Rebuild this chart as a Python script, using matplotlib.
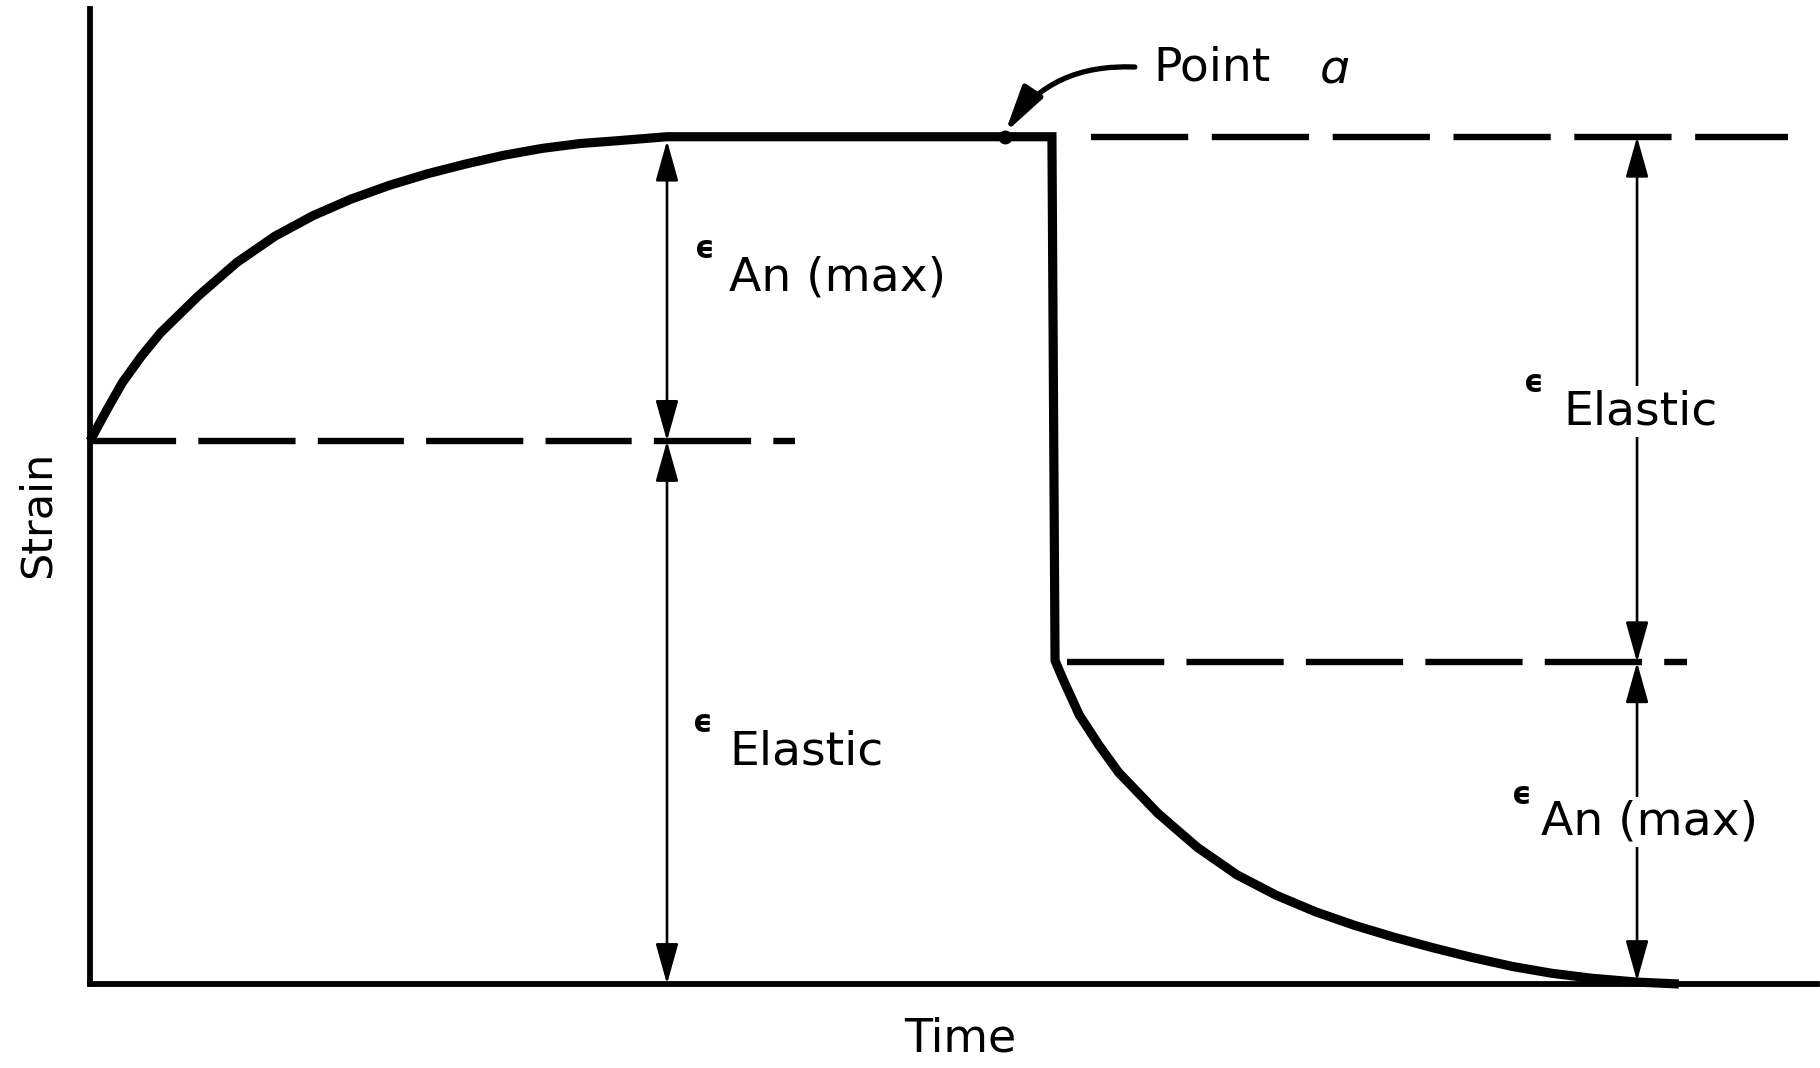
import matplotlib.pyplot as plt

plt.rcParams['font.family'] = ['DejaVu Sans']
plt.rcParams['lines.scale_dashes'] = False

# strain while the load is on: anelastic rise after the elastic jump
load_time = [0.0, 0.98, 1.88, 2.98, 4.09, 6.29, 8.50, 10.71, 12.91, 15.11,
             17.31, 19.54, 21.75, 23.96, 26.17, 28.37, 30.61, 33.41, 55.70]
load_strain = [55.7, 58.9, 61.7, 64.4, 66.8, 70.6, 74.0, 76.7, 78.8, 80.5,
               81.9, 83.1, 84.1, 85.0, 85.7, 86.2, 86.5, 86.9, 86.9]

# after unloading: elastic drop, then anelastic recovery back to zero
unload_time = [55.88, 55.99, 56.38, 57.28, 58.42, 59.56, 61.84, 64.13, 66.41,
               68.69, 70.97, 73.25, 75.50, 77.80, 80.08, 82.36, 84.64, 86.91,
               89.55, 92.0]
unload_strain = [33.2, 32.7, 31.1, 27.6, 24.5, 21.7, 17.5, 14.0, 11.2, 9.1,
                 7.4, 6.0, 4.8, 3.7, 2.7, 1.8, 1.1, 0.6, 0.2, 0.0]

elastic_level = 55.7      # strain right after loading
peak_strain = 86.9        # strain at point a
recovered_level = 33.0    # strain right after unloading
point_a_time = 52.98

left_arrow_t = 33.41
right_arrow_t = 89.58

fig = plt.figure(figsize=(18.2, 10.68), dpi=100)
ax = fig.add_axes([90 / 1820, 84 / 1068, 1727 / 1820, 975 / 1068])
ax.set_xlim(0, 100)
ax.set_ylim(0, 100)
ax.set_xticks([])
ax.set_yticks([])
for side in ('top', 'right'):
    ax.spines[side].set_visible(False)
for side in ('left', 'bottom'):
    ax.spines[side].set_linewidth(4.2)
    ax.spines[side].set_capstyle('projecting')

# the curve itself
ax.plot(load_time + unload_time, load_strain + unload_strain, color='black',
        lw=6.6, solid_joinstyle='miter', solid_capstyle='butt', clip_on=False,
        zorder=3)

# reference levels
dash = dict(color='black', lw=4.6, clip_on=False, zorder=2)
ax.plot([0, 40.82], [elastic_level, elastic_level], dashes=(62, 16, 70, 16), **dash)
ax.plot([57.96, 98.3], [peak_strain, peak_strain], dashes=(70, 17), **dash)
ax.plot([56.57, 92.47], [recovered_level, recovered_level], dashes=(70, 16), **dash)


def span(t, lo, hi):
    ax.annotate('', xy=(t, hi), xytext=(t, lo),
                arrowprops=dict(arrowstyle='<|-|>,head_length=25,head_width=7',
                                mutation_scale=1, lw=1.9, color='black',
                                shrinkA=0, shrinkB=0),
                zorder=2)


span(left_arrow_t, elastic_level, peak_strain - 0.4)
span(left_arrow_t, 0, elastic_level)
span(right_arrow_t, recovered_level, peak_strain)
span(right_arrow_t, 0.3, recovered_level)

fs = 34
eps = dict(fontsize=22, fontweight='bold', ha='center', va='center')
lab = dict(fontsize=fs, ha='left', va='center', zorder=5)
box = dict(facecolor='white', edgecolor='none', pad=2)

ax.text(35.6, 75.3, 'ϵ', **eps)
ax.text(37.0, 72.4, 'An (max)', **lab)
ax.text(35.5, 26.7, 'ϵ', **eps)
ax.text(37.0, 23.8, 'Elastic', **lab)

ax.text(83.6, 61.6, 'ϵ', **eps)
ax.text(85.3, 58.7, 'Elastic', bbox=box, **lab)
ax.text(82.9, 19.3, 'ϵ', **eps)
ax.text(84.0, 16.6, 'An (max)', bbox=box, **lab)

# point a
ax.annotate('', xy=(point_a_time, peak_strain + 0.4), xytext=(60.5, 94.05),
            arrowprops=dict(arrowstyle='-|>,head_length=28,head_width=7',
                            mutation_scale=1, lw=3.8, color='black',
                            shrinkA=0, shrinkB=0,
                            connectionstyle='arc3,rad=0.28'),
            annotation_clip=False)
ax.plot([point_a_time], [peak_strain], 'o', color='black', ms=9, zorder=4)
ax.text(61.55, 93.9, 'Point', fontsize=fs, ha='left', va='center')
ax.text(71.2, 93.6, 'ɑ', fontsize=fs, style='italic', ha='left', va='center')

fig.text(960 / 1820, 1 - 1039 / 1068, 'Time', fontsize=33, ha='center', va='center')
fig.text(38 / 1820, 1 - 514 / 1068, 'Strain', fontsize=31, rotation=90,
         ha='center', va='center')

fig.savefig('out.png', dpi=100)
